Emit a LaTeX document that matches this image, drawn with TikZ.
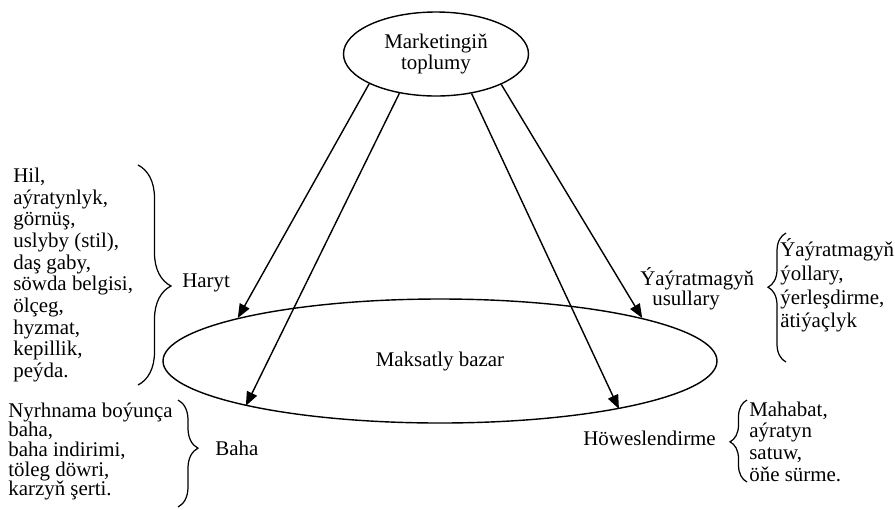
\documentclass[tikz,border=0pt]{standalone}
\usepackage{fontspec}
\setmainfont{Liberation Serif}
\usetikzlibrary{positioning}
\usetikzlibrary{shapes,arrows.meta,decorations.pathreplacing}
\tikzstyle{oval} = [ellipse, draw, line width=0.8pt, inner sep=0pt, align=center]
\tikzstyle{line} = [draw, line width=0.8pt, -{Triangle[length=0.28cm,width=0.22cm]}]
\tikzstyle{items} = [align=left, inner sep=0pt, anchor=west]
\tikzstyle{word} = [inner sep=0pt, anchor=base west]
\tikzstyle{grouping} = [draw, line width=0.7pt, decorate]

\begin{document}
\begin{tikzpicture}[font=\fontsize{11.9}{12.3}\selectfont]
    \useasboundingbox (0,0) rectangle (17.9,-10.18);
    \node [oval, minimum width=3.7cm, minimum height=1.68cm] (mix) at (8.72,-1.08) {Marketingiň\\toplumy};
    \node [oval, minimum width=11.08cm, minimum height=2.48cm] (market) at (8.80,-7.22) {Maksatly bazar};
    % product
    \node [items] (harytlist) at (0.26,-5.50) {Hil,\\aýratynlyk,\\görnüş,\\uslyby (stil),\\daş gaby,\\söwda belgisi,\\ölçeg,\\hyzmat,\\kepillik,\\peýda.};
    \node [word] (haryt) at (3.64,-5.74) {Haryt};
    \draw [grouping, decoration={brace, amplitude=0.66cm, aspect=0.55}] (2.76,-3.30) -- (2.76,-7.70);
    % price
    \node [items, font=\fontsize{11.9}{11.2}\selectfont] (bahalist) at (0.16,-9.03) {Nyrhnama boýunça\\baha,\\baha indirimi,\\töleg döwri,\\karzyň şerti.};
    \node [word] (baha) at (4.30,-9.10) {Baha};
    \draw [grouping, decoration={brace, amplitude=0.40cm, aspect=0.45}] (3.56,-8.00) -- (3.56,-10.14);
    % place
    \node [items, font=\fontsize{11.9}{11.3}\selectfont] (usullar) at (12.80,-5.78) {Ýaýratmagyň\\\hspace{0.24cm}usullary};
    \node [items, font=\fontsize{11.9}{13.4}\selectfont] (usullarlist) at (15.60,-5.71) {Ýaýratmagyň\\ýollary,\\ýerleşdirme,\\ätiýaçlyk};
    \draw [grouping, decoration={brace, amplitude=0.36cm, aspect=0.58}] (15.72,-7.24) -- (15.72,-4.66);
    % promotion
    \node [word] (howes) at (11.66,-8.90) {Höweslendirme};
    \node [items] (howeslist) at (14.98,-8.83) {Mahabat,\\aýratyn\\satuw,\\öňe sürme.};
    \draw [grouping, decoration={brace, amplitude=0.34cm, aspect=0.49}] (14.94,-9.64) -- (14.94,-8.00);
    % edges
    \path [line] (mix.204) -- (market.168);
    \path [line] (mix.227) -- (market.193);
    \path [line] (mix.312) -- (market.345);
    \path [line] (mix.335) -- (market.12);
\end{tikzpicture}
\end{document}
